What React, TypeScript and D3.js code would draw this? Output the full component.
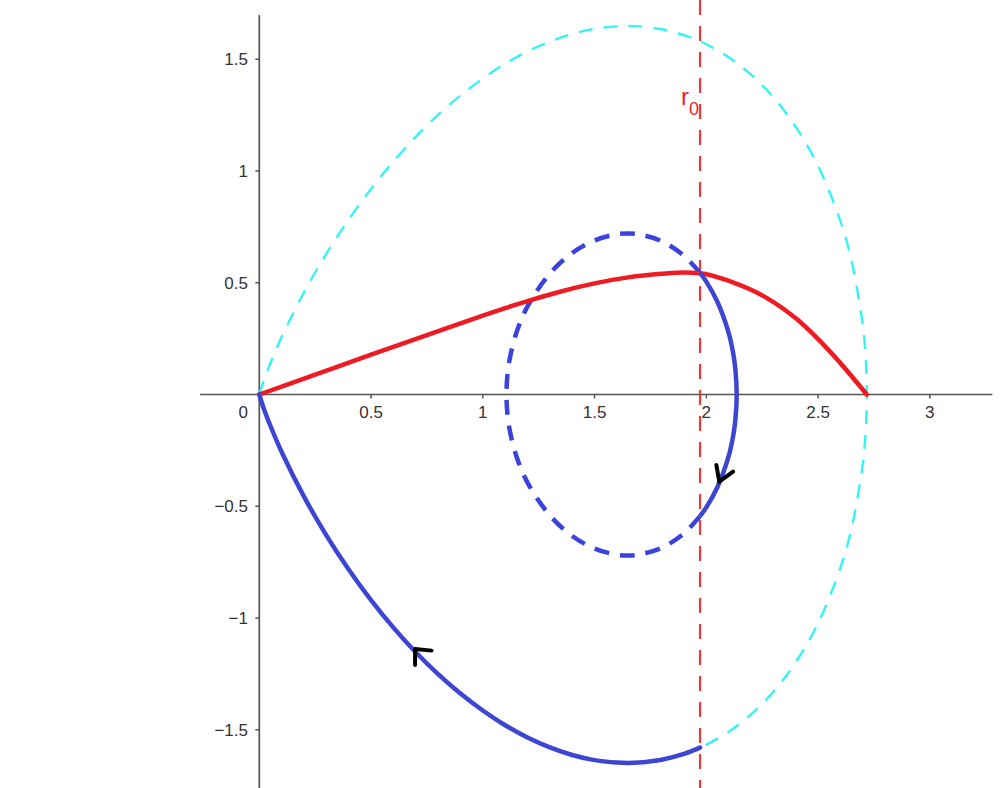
import React from "react";
import * as d3 from "d3";

// ---- data ----
const r0 = 1.972;

// separatrix (cyan), upper half: x, y
const cyanX = [0, 0.02, 0.05, 0.1, 0.2, 0.3, 0.4, 0.5, 0.6, 0.7, 0.8, 0.9, 1.0, 1.1, 1.2, 1.3, 1.4, 1.5, 1.6, 1.65, 1.7, 1.8, 1.9, 1.972, 2.0, 2.1, 2.2, 2.3, 2.4, 2.5, 2.6, 2.65, 2.7, 2.71, 2.715, 2.717, 2.718];
const cyanY = [0, 0.063, 0.141, 0.257, 0.457, 0.63, 0.783, 0.92, 1.043, 1.153, 1.251, 1.338, 1.414, 1.48, 1.535, 1.579, 1.613, 1.636, 1.647, 1.649, 1.647, 1.634, 1.608, 1.58, 1.567, 1.509, 1.431, 1.33, 1.198, 1.023, 0.776, 0.598, 0.313, 0.212, 0.134, 0.083, 0];

// closed orbit (blue), upper half
const ovalX = [1.106, 1.107, 1.11, 1.12, 1.15, 1.2, 1.3, 1.4, 1.5, 1.6, 1.65, 1.7, 1.8, 1.9, 1.972, 2.0, 2.05, 2.1, 2.12, 2.13, 2.136];
const ovalY = [0, 0.042, 0.084, 0.157, 0.275, 0.394, 0.541, 0.633, 0.689, 0.717, 0.72, 0.716, 0.686, 0.621, 0.544, 0.505, 0.414, 0.276, 0.186, 0.114, 0];

// red curve
const redX = [0, 0.25, 0.5, 0.75, 1.0, 1.1, 1.2, 1.35, 1.5, 1.65, 1.8, 1.9, 1.972, 2.11, 2.26, 2.41, 2.56, 2.718];
const redY = [0, 0.089, 0.178, 0.266, 0.353, 0.3865, 0.418, 0.461, 0.497, 0.524, 0.54, 0.546, 0.543, 0.505, 0.438, 0.333, 0.185, 0];

const xTicks = [0.5, 1, 1.5, 2, 2.5, 3];
const xTickLabels = ["0.5", "1", "1.5", "2", "2.5", "3"];
const yTicks = [1.5, 1, 0.5, -0.5, -1, -1.5];
const yTickLabels = ["1.5", "1", "0.5", "\u22120.5", "\u22121", "\u22121.5"];

// hand-drawn direction arrows: [arm1, tip, arm2]
const arrow1 = [[2.045, -0.315], [2.058, -0.39], [2.12, -0.345]];
const arrow2 = [[0.697, -1.21], [0.697, -1.139], [0.771, -1.146]];

const W = 1007;
const H = 788;

export default function App() {
  const x = d3.scaleLinear().domain([0, 3]).range([259.3, 929.8]);
  const y = d3.scaleLinear().domain([0, 1.5]).range([394.5, 59.25]);

  const line = d3
    .line<[number, number]>()
    .x((d) => x(d[0]))
    .y((d) => y(d[1]))
    .curve(d3.curveCatmullRom.alpha(0.5));
  const smooth = d3
    .line<[number, number]>()
    .x((d) => x(d[0]))
    .y((d) => y(d[1]))
    .curve(d3.curveMonotoneX);
  const straight = d3
    .line<number[]>()
    .x((d) => x(d[0]))
    .y((d) => y(d[1]));

  const cyanUpper: [number, number][] = cyanX.map((v, i) => [v, cyanY[i]]);
  const cyanLower: [number, number][] = cyanX.map((v, i) => [v, -cyanY[i]]);
  const cyanFull = [...cyanUpper, ...cyanLower.slice(0, -1).reverse()];
  const iR = cyanX.indexOf(r0);
  const blueLower = cyanLower.slice(0, iR + 1);

  const iO = ovalX.indexOf(r0);
  const ovalUp: [number, number][] = ovalX.map((v, i) => [v, ovalY[i]]);
  const ovalDn: [number, number][] = ovalX.map((v, i) => [v, -ovalY[i]]);
  const ovalDashed = [
    ...ovalUp.slice(0, iO + 1).reverse(),
    ...ovalDn.slice(1, iO + 1),
  ];
  const ovalSolid = [
    ...ovalUp.slice(iO),
    ...ovalDn.slice(iO, -1).reverse(),
  ];

  const red: [number, number][] = redX.map((v, i) => [v, redY[i]]);

  const axisColor = "#555";
  const font = "'Liberation Sans', Arial, sans-serif";

  return (
    <svg
      width={W}
      height={H}
      style={{ position: "absolute", left: 0, top: 0, background: "#fff" }}
    >
      {/* axes */}
      <line x1={x(-0.265)} x2={x(3.28)} y1={y(0)} y2={y(0)} stroke={axisColor} strokeWidth={1.7} />
      <line x1={x(0)} x2={x(0)} y1={y(1.698)} y2={H} stroke={axisColor} strokeWidth={1.7} />
      {xTicks.map((t, i) => (
        <g key={"xt" + i}>
          <line x1={x(t)} x2={x(t)} y1={y(0)} y2={y(0) + 4} stroke={axisColor} strokeWidth={1.5} />
          <text x={x(t)} y={418} textAnchor="middle" fontFamily={font} fontSize={17} fill="#333">
            {xTickLabels[i]}
          </text>
        </g>
      ))}
      <text x={x(0) - 16} y={418} textAnchor="middle" fontFamily={font} fontSize={17} fill="#333">
        0
      </text>
      {yTicks.map((t, i) => (
        <g key={"yt" + i}>
          <line x1={x(0) - 4} x2={x(0)} y1={y(t)} y2={y(t)} stroke={axisColor} strokeWidth={1.5} />
          <text x={248} y={y(t) + 6} textAnchor="end" fontFamily={font} fontSize={17} fill="#333">
            {yTickLabels[i]}
          </text>
        </g>
      ))}

      {/* cyan separatrix */}
      <path d={line(cyanFull) || ""} fill="none" stroke="#33f5f5" strokeWidth={2.4} strokeDasharray="14,11" />

      {/* r0 vertical */}
      <line x1={x(r0)} x2={x(r0)} y1={0} y2={H} stroke="#f03a3a" strokeWidth={2.2} strokeDasharray="15,11" />
      <text x={681} y={105} fontFamily={font} fontSize={24} fill="#ee1c24">
        r
      </text>
      <text x={689} y={115} fontFamily={font} fontSize={18} fill="#ee1c24">
        0
      </text>

      {/* blue oval dashed part */}
      <path d={line(ovalDashed) || ""} fill="none" stroke="#3a44dc" strokeWidth={4.5} strokeDasharray="15,11" />

      {/* red curve */}
      <path d={smooth(red) || ""} fill="none" stroke="#ed1c24" strokeWidth={4.5} strokeLinecap="round" />

      {/* blue solid parts */}
      <path d={line(ovalSolid) || ""} fill="none" stroke="#3c46d2" strokeWidth={4.5} />
      <path d={line(blueLower) || ""} fill="none" stroke="#3c46d2" strokeWidth={4.5} strokeLinecap="round" />

      {/* arrows */}
      <path d={straight(arrow1) || ""} fill="none" stroke="#000" strokeWidth={4} strokeLinecap="round" strokeLinejoin="round" />
      <path d={straight(arrow2) || ""} fill="none" stroke="#000" strokeWidth={4} strokeLinecap="round" strokeLinejoin="round" />
    </svg>
  );
}
